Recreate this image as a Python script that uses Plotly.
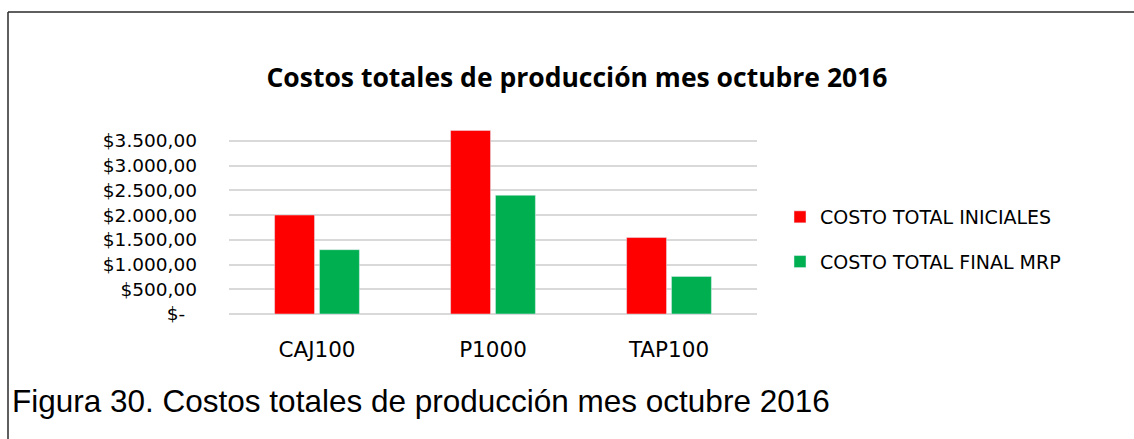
import plotly.graph_objects as go

categories = ["CAJ100", "P1000", "TAP100"]
costo_inicial = [2000, 3710, 1545]
costo_final_mrp = [1300, 2400, 760]
series_names = ["COSTO TOTAL INICIALES", "COSTO TOTAL FINAL MRP"]
tick_values = [0, 500, 1000, 1500, 2000, 2500, 3000, 3500]
tick_labels = ["$-\u00a0\u00a0", "$500,00", "$1.000,00", "$1.500,00", "$2.000,00",
               "$2.500,00", "$3.000,00", "$3.500,00"]
chart_title = "<b>Costos totales de producción mes octubre 2016</b>"
caption = "Figura 30. Costos totales de producción mes octubre 2016"

W, H = 1134, 439
L, R, T, B = 229, 757, 121, 314  # plot area in pixels


def px_x(px):
    return (px - L) / (R - L)


def px_y(py):
    return (B - py) / (B - T)


fig = go.Figure()
fig.add_trace(go.Bar(x=categories, y=costo_inicial, name=series_names[0],
                     marker_color="#FF0000", legendgroup="a"))
fig.add_trace(go.Bar(x=categories, y=costo_final_mrp, name=series_names[1],
                     marker_color="#00B050", legendgroup="b"))

fig.update_layout(
    width=W, height=H,
    margin=dict(l=L, r=W - R, t=T, b=H - B, pad=0),
    paper_bgcolor="white", plot_bgcolor="white",
    barmode="group", bargap=0.49, bargroupgap=0.11,
    font=dict(family="DejaVu Sans", color="#000000"),
    title=dict(text=chart_title, x=577 / W, xref="container", xanchor="center",
               y=1 - 78 / H, yref="container", yanchor="middle",
               font=dict(family="Open Sans", size=26.5, color="#000000")),
    legend=dict(x=px_x(780), xanchor="left", y=px_y(198), yanchor="top",
                font=dict(family="DejaVu Sans", size=19, color="#000000"),
                traceorder="grouped", tracegroupgap=17, bgcolor="rgba(0,0,0,0)"),
    showlegend=True,
)

fig.update_yaxes(range=[0, 3900], tickvals=tick_values, ticktext=tick_labels,
                 showgrid=True, gridcolor="#D9D9D9", gridwidth=1.5,
                 zeroline=True, zerolinecolor="#D9D9D9", zerolinewidth=1.5,
                 showline=False, ticks="", ticklabelstandoff=31,
                 tickfont=dict(family="DejaVu Sans", size=18.5, color="#000000"))
fig.update_xaxes(showgrid=False, showline=False, ticks="", ticklabelstandoff=20,
                 tickfont=dict(family="DejaVu Sans", size=21.5, color="#000000"))

# outer frame (top and left edges visible)
fig.add_shape(type="line", xref="paper", yref="paper",
              x0=px_x(8), x1=px_x(W + 10), y0=px_y(12), y1=px_y(12),
              line=dict(color="#2A2A2A", width=1.5))
fig.add_shape(type="line", xref="paper", yref="paper",
              x0=px_x(8), x1=px_x(8), y0=px_y(12), y1=px_y(H + 10),
              line=dict(color="#2A2A2A", width=1.5))

fig.add_annotation(text=caption, xref="paper", yref="paper",
                   x=px_x(10), xanchor="left", y=px_y(401), yanchor="middle",
                   showarrow=False,
                   font=dict(family="Liberation Sans", size=31.5, color="#000000"))

fig.write_html("out.html", config={"displayModeBar": False},
               post_script="document.body.style.margin='0';document.body.style.overflow='hidden';")
